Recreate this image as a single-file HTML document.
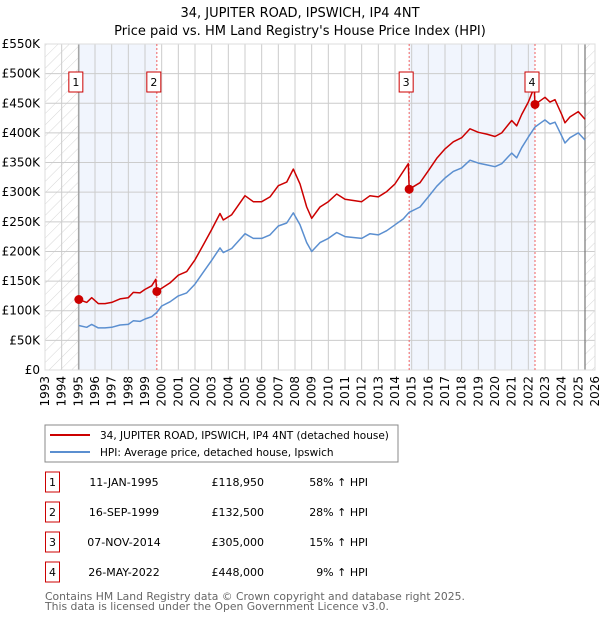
<!DOCTYPE html>
<html><head><meta charset="utf-8"><style>
body{margin:0;background:#fff;font-family:"DejaVu Sans","Liberation Sans",sans-serif;}
svg text{font-family:"DejaVu Sans","Liberation Sans",sans-serif;}
</style></head><body>
<svg id="c" width="600" height="620" xmlns="http://www.w3.org/2000/svg">
<defs><pattern id="hatch" width="8" height="8" patternUnits="userSpaceOnUse" patternTransform="rotate(45)"><line x1="0" y1="0" x2="0" y2="8" stroke="#ccc" stroke-width="0.8"/></pattern></defs>
<text x="300" y="17" text-anchor="middle" font-size="13">34, JUPITER ROAD, IPSWICH, IP4 4NT</text>
<text x="300" y="35" text-anchor="middle" font-size="13">Price paid vs. HM Land Registry's House Price Index (HPI)</text>
<g id="plot"></g>
<rect x="45" y="425" width="353" height="37" fill="#fff" stroke="#888"/>
<line x1="50" y1="435" x2="90" y2="435" stroke="#cc0000" stroke-width="2"/>
<text x="100" y="439" font-size="10.5">34, JUPITER ROAD, IPSWICH, IP4 4NT (detached house)</text>
<line x1="50" y1="452" x2="90" y2="452" stroke="#5b8fd0" stroke-width="2"/>
<text x="100" y="456" font-size="10.5">HPI: Average price, detached house, Ipswich</text>
<g id="table" font-size="11"></g>
<text x="45" y="600" font-size="10.8" fill="#666">Contains HM Land Registry data © Crown copyright and database right 2025.</text>
<text x="45" y="610" font-size="10.8" fill="#666">This data is licensed under the Open Government Licence v3.0.</text>
</svg>
<script>
const hpiYears=[1995.03,1995.5,1995.8,1996.2,1996.6,1997,1997.5,1998,1998.3,1998.7,1999,1999.4,1999.7,2000,2000.5,2001,2001.5,2002,2002.5,2003,2003.5,2003.7,2004.2,2005,2005.5,2006,2006.5,2007,2007.5,2007.9,2008.3,2008.7,2009,2009.5,2010,2010.5,2011,2012,2012.5,2013,2013.5,2014,2014.5,2014.85,2015.5,2016,2016.5,2017,2017.5,2018,2018.5,2019,2019.5,2020,2020.4,2020.8,2021,2021.3,2021.6,2022,2022.4,2022.8,2023,2023.3,2023.6,2024,2024.2,2024.5,2025,2025.4];
const hpiValues=[75,72,77,71,71,72,76,77,83,82,86,90,97,108,115,125,130,145,165,185,206,198,205,230,222,222,228,243,248,265,245,215,200,215,222,232,225,222,230,228,235,245,255,266,275,292,310,324,335,341,354,349,346,343,348,360,366,358,375,393,410,418,422,415,418,395,383,392,400,388];
const priceYears=[1995.03,1995.5,1995.8,1996.2,1996.6,1997,1997.5,1998,1998.3,1998.7,1999,1999.4,1999.65,1999.71,2000,2000.5,2001,2001.5,2002,2002.5,2003,2003.5,2003.7,2004.2,2005,2005.5,2006,2006.5,2007,2007.5,2007.9,2008.3,2008.7,2009,2009.5,2010,2010.5,2011,2012,2012.5,2013,2013.5,2014,2014.8,2014.85,2015.5,2016,2016.5,2017,2017.5,2018,2018.5,2019,2019.5,2020,2020.4,2020.8,2021,2021.3,2021.6,2022,2022.35,2022.4,2022.8,2023,2023.3,2023.6,2024,2024.2,2024.5,2025,2025.4];
const priceValues=[119,114,122,112,112,114,120,122,131,130,136,142,153,132.5,138,147,160,166,186,211,237,264,253,262,294,284,284,292,311,317,339,314,275,256,275,284,297,288,284,294,292,301,314,348,305,316,336,357,373,385,392,407,401,398,394,400,414,421,412,431,452,477,448,456,460,452,456,431,417,427,436,423];
const saleLabels=["1","2","3","4"];
const saleYears=[1995.03,1999.71,2014.85,2022.4];
const salePrices=[118950,132500,305000,448000];
const saleDates=["11-JAN-1995","16-SEP-1999","07-NOV-2014","26-MAY-2022"];
const salePriceText=["£118,950","£132,500","£305,000","£448,000"];
const saleHpiText=["58% ↑ HPI","28% ↑ HPI","15% ↑ HPI","9% ↑ HPI"];
const yTicks=[0,50,100,150,200,250,300,350,400,450,500,550];
const yTickLabels=["£0","£50K","£100K","£150K","£200K","£250K","£300K","£350K","£400K","£450K","£500K","£550K"];
const xTicks=[1993,1994,1995,1996,1997,1998,1999,2000,2001,2002,2003,2004,2005,2006,2007,2008,2009,2010,2011,2012,2013,2014,2015,2016,2017,2018,2019,2020,2021,2022,2023,2024,2025,2026];

const L=45,R=595,T=44,B=370,X0=1993,X1=2026,YMAX=550,DATA_END=2025.4;
const sx=y=>L+(y-X0)/(X1-X0)*(R-L);
const sy=v=>B-v/YMAX*(B-T);
const NS="http://www.w3.org/2000/svg";
function mk(tag,attrs,parent,txt){const e=document.createElementNS(NS,tag);for(const k in attrs)e.setAttribute(k,attrs[k]);if(txt!==undefined)e.textContent=txt;parent.appendChild(e);return e;}
const g=document.getElementById('plot');
for(let i=0;i<saleYears.length;i+=2){
  const x1=sx(saleYears[i]),x2=sx(i+1<saleYears.length?saleYears[i+1]:DATA_END);
  const r=mk('rect',{x:x1,y:T,width:x2-x1,height:B-T,fill:'#eef3fc',opacity:0.8},g);
  
  
}
xTicks.forEach(t=>{const l=mk('line',{x1:sx(t),x2:sx(t),y1:T,y2:B,stroke:'#ccc','stroke-width':1},g);
  
  });
yTicks.forEach(t=>{const l=mk('line',{x1:L,x2:R,y1:sy(t),y2:sy(t),stroke:'#ccc','stroke-width':1},g);
  
  });
const h1=mk('rect',{x:L,y:T,width:sx(saleYears[0])-L,height:B-T,fill:'url(#hatch)'},g);


const h2=mk('rect',{x:sx(DATA_END),y:T,width:R-sx(DATA_END),height:B-T,fill:'url(#hatch)'},g);


mk('line',{x1:sx(saleYears[0]),x2:sx(saleYears[0]),y1:T,y2:B,stroke:'#999','stroke-width':1.2},g);
const el=mk('line',{x1:sx(DATA_END),x2:sx(DATA_END),y1:T,y2:B,stroke:'#777','stroke-width':1.2},g);


const fr=mk('rect',{x:L,y:T,width:R-L,height:B-T,fill:'none',stroke:'#ddd'},g);


saleYears.forEach((y,i)=>{if(i>0){const l=mk('line',{x1:sx(y),x2:sx(y),y1:T,y2:B,stroke:'#f06060','stroke-width':1,'stroke-dasharray':'2,2'},g);
  
  }});
yTicks.forEach((t,i)=>{const e=mk('text',{x:40,y:sy(t)+4,'text-anchor':'end','font-size':12},g,yTickLabels[i]);
  
  });
xTicks.forEach(t=>{const x=sx(t);const e=mk('text',{x:0,y:0,'text-anchor':'end','font-size':12,transform:`translate(${x+4},376) rotate(-90)`},g,String(t));
  
  });
const path=(xs,vs)=>xs.map((y,i)=>(i?'L':'M')+sx(y).toFixed(1)+','+sy(vs[i]).toFixed(1)).join('');
const hp=mk('path',{d:path(hpiYears,hpiValues),fill:'none',stroke:'#5b8fd0','stroke-width':1.5,'stroke-linejoin':'round'},g);


const pp=mk('path',{d:path(priceYears,priceValues),fill:'none',stroke:'#cc0000','stroke-width':1.5,'stroke-linejoin':'round'},g);


saleYears.forEach((y,i)=>{
  const c=mk('circle',{cx:sx(y),cy:sy(salePrices[i]/1000),r:4.5,fill:'#cc0000'},g);
  
  
  const bx=sx(y)-10;
  const r=mk('rect',{x:bx,y:72,width:14,height:20,fill:'#fff',stroke:'#cc0000'},g);
  
  
  const t=mk('text',{x:bx+7,y:86,'text-anchor':'middle','font-size':11},g,saleLabels[i]);
  
  
});
const tb=document.getElementById('table');
saleLabels.forEach((lab,i)=>{
  const y=483+i*30;
  const r=mk('rect',{x:45.5,y:y-11,width:14,height:20,fill:'#fff',stroke:'#cc0000'},tb);
  
  
  const a=mk('text',{x:52.5,y:y+3,'text-anchor':'middle'},tb,lab);
  
  
  const d=mk('text',{x:124,y:y+3,'text-anchor':'middle'},tb,saleDates[i]);
  
  
  const p=mk('text',{x:264,y:y+3,'text-anchor':'end'},tb,salePriceText[i]);
  
  
  const h=mk('text',{x:368,y:y+3,'text-anchor':'end'},tb,saleHpiText[i]);
  
  
});
</script>
</body></html>
